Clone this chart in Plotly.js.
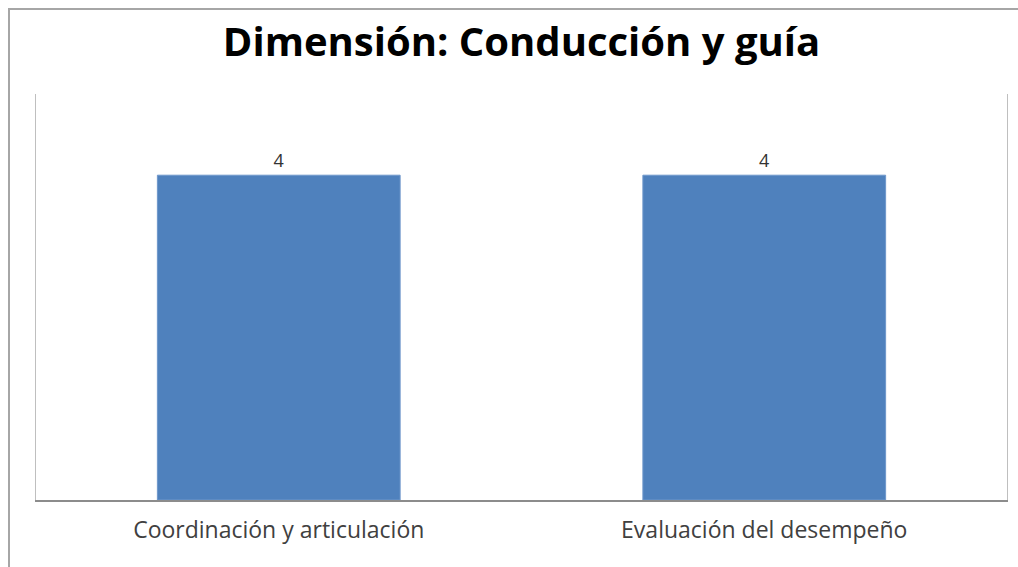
<!DOCTYPE html>
<html>
<head>
<meta charset="utf-8">
<script src="https://cdn.plot.ly/plotly-3.0.1.min.js"></script>
<style>html,body{margin:0;padding:0;background:#fff;}#chart{width:1018px;height:567px;}</style>
</head>
<body>
<div id="chart"></div>
<script>
const categories = ["Coordinación y articulación", "Evaluación del desempeño"];
const values = [4, 4];
const chartTitle = "Dimensión: Conducción y guía";

const trace = {
  type: "bar",
  x: categories,
  y: values,
  text: values.map(String),
  textposition: "outside",
  cliponaxis: false,
  textfont: {family: "Open Sans, sans-serif", size: 18, color: "#333333"},
  marker: {color: "#4F81BD", line: {color: "#6E97CB", width: 1}},
  width: 0.5,
  hoverinfo: "skip"
};

const layout = {
  width: 1018,
  height: 567,
  margin: {l: 36, r: 11, t: 94, b: 67},
  paper_bgcolor: "#ffffff",
  plot_bgcolor: "#ffffff",
  showlegend: false,
  title: {
    text: "<b>" + chartTitle + "</b>",
    font: {family: "Open Sans, sans-serif", size: 40, color: "#000000"},
    x: 0.5, xanchor: "center", xref: "paper",
    y: 1 - 42/567, yanchor: "middle", yref: "container"
  },
  xaxis: {
    showline: true, linecolor: "#8C8C8C", linewidth: 2,
    ticks: "", showgrid: false, zeroline: false,
    ticklabelstandoff: 8,
    tickfont: {family: "Open Sans, sans-serif", size: 23, color: "#404040"},
    fixedrange: true
  },
  yaxis: {
    range: [0, 5],
    showline: true, mirror: true, linecolor: "#BFBFBF", linewidth: 1,
    showticklabels: false, ticks: "", showgrid: false, zeroline: false,
    fixedrange: true
  },
  shapes: [{
    type: "rect", xref: "paper", yref: "paper",
    x0: (9 - 36) / 971, x1: 1.2,
    y0: -0.5, y1: (500 - 9) / 406,
    line: {color: "#A6A6A6", width: 2},
    fillcolor: "rgba(0,0,0,0)",
    layer: "below"
  }]
};

Plotly.newPlot("chart", [trace], layout, {displayModeBar: false, staticPlot: true});
</script>
</body>
</html>
